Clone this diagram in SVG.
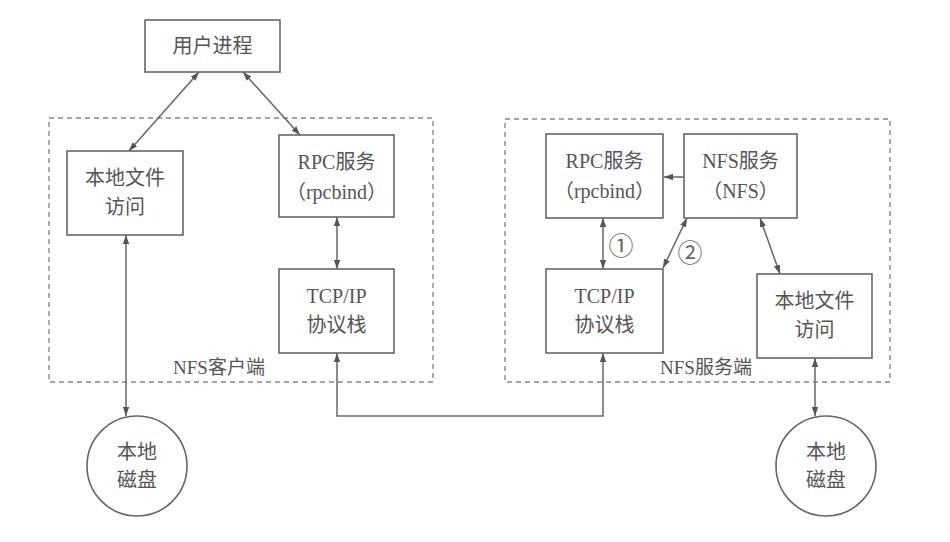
<svg xmlns="http://www.w3.org/2000/svg" width="950" height="542" viewBox="0 0 950 542">
<defs>
<marker id="ah" viewBox="0 0 10 10" refX="10" refY="5" markerWidth="9" markerHeight="9" markerUnits="userSpaceOnUse" orient="auto-start-reverse">
<path d="M0,1.5 L10,5 L0,8.5 Z" fill="#555"/>
</marker>
<style>
.box{fill:#fff;stroke:#666;stroke-width:1.6}
.grp{fill:none;stroke:#888;stroke-width:1.4;stroke-dasharray:5,4}
.t{font-family:"Liberation Serif","Noto Sans CJK SC",serif;font-size:20px;fill:#555;text-anchor:middle;dominant-baseline:central}
.lbl{font-family:"Liberation Serif","Noto Sans CJK SC",serif;font-size:19px;fill:#555;text-anchor:middle;dominant-baseline:central}
.n{font-family:"Noto Sans CJK SC","DejaVu Sans",sans-serif;font-size:25px;fill:#666;text-anchor:middle;dominant-baseline:central}
.c{fill:none;stroke:#666;stroke-width:1.5}
.b{marker-start:url(#ah);marker-end:url(#ah)}
.e{marker-end:url(#ah)}
</style>
</defs>
<rect width="950" height="542" fill="#fff"/>
<g id="client-group">
<rect class="grp" x="49" y="118" width="384" height="264"/>
<text class="lbl" x="219" y="367">NFS客户端</text>
</g>
<g id="server-group">
<rect class="grp" x="505" y="119" width="385" height="263"/>
<text class="lbl" x="706" y="367">NFS服务端</text>
</g>
<g id="connectors">
<line class="c b" x1="199" y1="72" x2="129" y2="151"/>
<line class="c b" x1="243" y1="72" x2="300" y2="135"/>
<line class="c b" x1="126" y1="235" x2="126" y2="416"/>
<line class="c b" x1="337" y1="217" x2="337" y2="269"/>
<polyline class="c b" points="337,353 337,416 603,416 603,353"/>
<line class="c e" x1="684" y1="177" x2="664" y2="177"/>
<line class="c b" x1="603" y1="218" x2="603" y2="269"/>
<line class="c b" x1="687" y1="218" x2="663" y2="268"/>
<line class="c b" x1="760" y1="218" x2="780" y2="274"/>
<line class="c b" x1="815" y1="358" x2="815" y2="416"/>
<text class="n" x="621" y="244">①</text>
<text class="n" x="690" y="251">②</text>
</g>
<g id="user-process">
<rect class="box" x="145" y="20" width="135" height="52"/>
<text class="t" x="212.5" y="46">用户进程</text>
</g>
<g id="client-local-file">
<rect class="box" x="67" y="151" width="116" height="84"/>
<text class="t" x="125" y="178">本地文件</text>
<text class="t" x="125" y="207">访问</text>
</g>
<g id="client-rpc">
<rect class="box" x="279" y="135" width="115" height="82"/>
<text class="t" x="336.5" y="162">RPC服务</text>
<text class="t" x="336.5" y="192">（rpcbind）</text>
</g>
<g id="client-tcp">
<rect class="box" x="279" y="269" width="115" height="84"/>
<text class="t" x="336.5" y="296">TCP/IP</text>
<text class="t" x="336.5" y="325">协议栈</text>
</g>
<g id="client-disk">
<circle class="box" cx="137" cy="466" r="50"/>
<text class="t" x="137" y="452">本地</text>
<text class="t" x="137" y="480">磁盘</text>
</g>
<g id="server-rpc">
<rect class="box" x="546" y="134" width="117" height="84"/>
<text class="t" x="604.5" y="161">RPC服务</text>
<text class="t" x="604.5" y="191">（rpcbind）</text>
</g>
<g id="server-nfs">
<rect class="box" x="684" y="134" width="113" height="84"/>
<text class="t" x="740.5" y="161">NFS服务</text>
<text class="t" x="740.5" y="191">（NFS）</text>
</g>
<g id="server-tcp">
<rect class="box" x="546" y="269" width="117" height="84"/>
<text class="t" x="604.5" y="296">TCP/IP</text>
<text class="t" x="604.5" y="325">协议栈</text>
</g>
<g id="server-local-file">
<rect class="box" x="757" y="274" width="115" height="84"/>
<text class="t" x="814.5" y="301">本地文件</text>
<text class="t" x="814.5" y="330">访问</text>
</g>
<g id="server-disk">
<circle class="box" cx="826" cy="466" r="50"/>
<text class="t" x="826" y="452">本地</text>
<text class="t" x="826" y="480">磁盘</text>
</g>
</svg>
